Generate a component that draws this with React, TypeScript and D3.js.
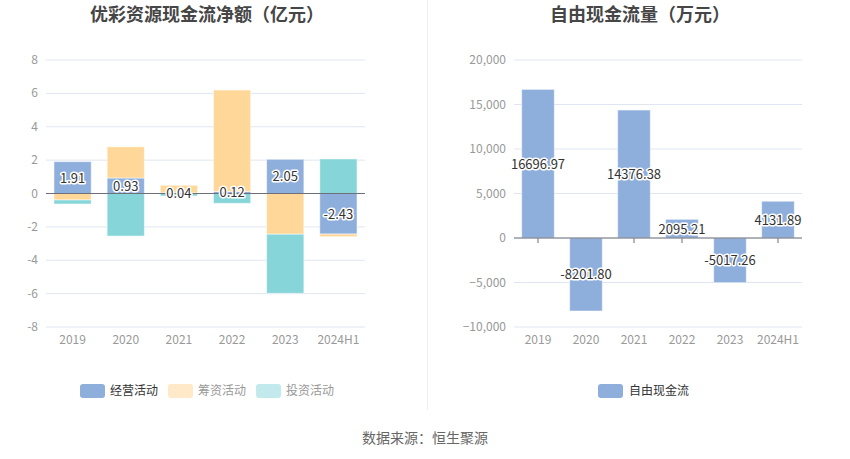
import React, { useRef, useEffect } from "react";
import * as d3 from "d3";

const years = ["2019", "2020", "2021", "2022", "2023", "2024H1"];
// 亿元
const operating = [1.91, 0.93, 0.04, 0.12, 2.05, -2.43];
const financing = [-0.39, 1.87, 0.45, 6.08, -2.44, -0.16];
const investing = [-0.24, -2.55, -0.15, -0.59, -3.54, 2.07];
// 万元
const freeCash = [16696.97, -8201.8, 14376.38, 2095.21, -5017.26, 4131.89];

const leftTicks = [-8, -6, -4, -2, 0, 2, 4, 6, 8];
const rightTicks = [-10000, -5000, 0, 5000, 10000, 15000, 20000];

const FONT = "'Noto Sans CJK SC', 'Noto Sans', sans-serif";

const App = () => {
  const svgRef = useRef(null);

  useEffect(() => {
    draw();
  }, []);

  const draw = () => {
    const svg = d3.select(svgRef.current);
    svgRef.current.querySelectorAll("*").forEach((n) => n.remove());
    svg.style("font-family", FONT);

    // titles
    svg.append("text").attr("x", 207).attr("y", 21).attr("text-anchor", "middle")
      .attr("font-size", 18).attr("font-weight", "bold").attr("fill", "#464646")
      .text("优彩资源现金流净额（亿元）");
    svg.append("text").attr("x", 640).attr("y", 21).attr("text-anchor", "middle")
      .attr("font-size", 18).attr("font-weight", "bold").attr("fill", "#464646")
      .text("自由现金流量（万元）");

    // divider
    svg.append("line").attr("x1", 427.5).attr("x2", 427.5).attr("y1", 0).attr("y2", 410)
      .attr("stroke", "#eeeeee");

    // footer
    svg.append("text").attr("x", 425).attr("y", 443).attr("text-anchor", "middle")
      .attr("font-size", 14).attr("fill", "#666").text("数据来源：恒生聚源");

    // ---------- left: stacked ----------
    const xL = d3.scaleBand().domain(years).range([46, 365]).paddingInner(0.3).paddingOuter(0.15);
    const yL = d3.scaleLinear().domain([-8, 8]).range([327, 60]);
    const gL = svg.append("g");

    gL.selectAll(".grid").data(leftTicks).join("line")
      .attr("x1", 46).attr("x2", 365)
      .attr("y1", (d) => yL(d)).attr("y2", (d) => yL(d))
      .attr("stroke", "#e0e6f1");
    gL.selectAll(".ytick").data(leftTicks).join("text")
      .attr("x", 38).attr("y", (d) => yL(d) + 4).attr("text-anchor", "end")
      .attr("font-size", 12).attr("fill", "#999").text((d) => d);

    const series = [
      { name: "经营活动", values: operating, color: "#8eaedc", legend: "#8eaedc", text: "#333" },
      { name: "筹资活动", values: financing, color: "#ffd899", legend: "#ffe9c8", text: "#999" },
      { name: "投资活动", values: investing, color: "#86d5d8", legend: "#c2eaec", text: "#999" },
    ];
    const posBase = years.map(() => 0);
    const negBase = years.map(() => 0);
    const rects = [];
    series.forEach((s) => {
      s.values.forEach((v, i) => {
        let y0, y1;
        if (v >= 0) { y0 = posBase[i]; y1 = y0 + v; posBase[i] = y1; }
        else { y0 = negBase[i]; y1 = y0 + v; negBase[i] = y1; }
        rects.push({ year: years[i], y0, y1, color: s.color });
      });
    });
    gL.selectAll(".bar").data(rects).join("rect")
      .attr("x", (d) => xL(d.year))
      .attr("width", xL.bandwidth())
      .attr("y", (d) => yL(Math.max(d.y0, d.y1)))
      .attr("height", (d) => Math.abs(yL(d.y0) - yL(d.y1)))
      .attr("fill", (d) => d.color)
      .attr("stroke", "rgba(255,255,255,0.5)").attr("stroke-width", 1);

    gL.append("line").attr("x1", 46).attr("x2", 365).attr("y1", yL(0)).attr("y2", yL(0))
      .attr("stroke", "#6e7079");

    gL.selectAll(".lab").data(operating).join("text")
      .attr("x", (_, i) => xL(years[i]) + xL.bandwidth() / 2)
      .attr("y", (d) => yL(d / 2) + 5)
      .attr("text-anchor", "middle").attr("font-size", 13)
      .attr("fill", "#333").attr("stroke", "#fff").attr("stroke-width", 3)
      .attr("paint-order", "stroke").attr("stroke-linejoin", "round")
      .text((d) => d.toFixed(2));

    gL.selectAll(".xl").data(years).join("text")
      .attr("x", (d) => xL(d) + xL.bandwidth() / 2).attr("y", 344)
      .attr("text-anchor", "middle").attr("font-size", 12).attr("fill", "#999").text((d) => d);

    // legend left
    const legX = [80, 168, 256];
    series.forEach((s, i) => {
      gL.append("rect").attr("x", legX[i]).attr("y", 384).attr("width", 25).attr("height", 14)
        .attr("rx", 3).attr("fill", s.legend);
      gL.append("text").attr("x", legX[i] + 30).attr("y", 395).attr("font-size", 12)
        .attr("fill", s.text).text(s.name);
    });

    // ---------- right: free cash ----------
    const xR = d3.scaleBand().domain(years).range([514, 802]).paddingInner(0.32).paddingOuter(0.16);
    const yR = d3.scaleLinear().domain([-10000, 20000]).range([327, 60]);
    const gR = svg.append("g");
    const fmt = d3.format(",");

    gR.selectAll(".grid").data(rightTicks).join("line")
      .attr("x1", 514).attr("x2", 802)
      .attr("y1", (d) => yR(d)).attr("y2", (d) => yR(d))
      .attr("stroke", "#e0e6f1");
    gR.selectAll(".ytick").data(rightTicks).join("text")
      .attr("x", 506).attr("y", (d) => yR(d) + 4).attr("text-anchor", "end")
      .attr("font-size", 12).attr("fill", "#999").text((d) => fmt(d));

    gR.selectAll(".tick").data(years).join("line")
      .attr("x1", (d) => xR(d) + xR.bandwidth() / 2).attr("x2", (d) => xR(d) + xR.bandwidth() / 2)
      .attr("y1", yR(0)).attr("y2", yR(0) + 5).attr("stroke", "#6e7079");

    gR.selectAll(".bar").data(freeCash).join("rect")
      .attr("x", (_, i) => xR(years[i]))
      .attr("width", xR.bandwidth())
      .attr("y", (d) => yR(Math.max(0, d)))
      .attr("height", (d) => Math.abs(yR(d) - yR(0)))
      .attr("fill", "#8eaedc")
      .attr("stroke", "rgba(255,255,255,0.5)").attr("stroke-width", 1);

    gR.append("line").attr("x1", 514).attr("x2", 802).attr("y1", yR(0)).attr("y2", yR(0))
      .attr("stroke", "#6e7079");

    gR.selectAll(".lab").data(freeCash).join("text")
      .attr("x", (_, i) => xR(years[i]) + xR.bandwidth() / 2)
      .attr("y", (d) => yR(d / 2) + 5)
      .attr("text-anchor", "middle").attr("font-size", 13)
      .attr("fill", "#333").attr("stroke", "#fff").attr("stroke-width", 3)
      .attr("paint-order", "stroke").attr("stroke-linejoin", "round")
      .text((d) => d.toFixed(2));

    gR.selectAll(".xl").data(years).join("text")
      .attr("x", (d) => xR(d) + xR.bandwidth() / 2).attr("y", 344)
      .attr("text-anchor", "middle").attr("font-size", 12).attr("fill", "#999").text((d) => d);

    gR.append("rect").attr("x", 598).attr("y", 384).attr("width", 25).attr("height", 14)
      .attr("rx", 3).attr("fill", "#8eaedc");
    gR.append("text").attr("x", 629).attr("y", 395).attr("font-size", 12)
      .attr("fill", "#333").text("自由现金流");
  };

  return (
    <svg ref={svgRef} width={850} height={459}
      style={{ position: "absolute", left: 0, top: 0, background: "#fff" }} />
  );
};

export default App;
